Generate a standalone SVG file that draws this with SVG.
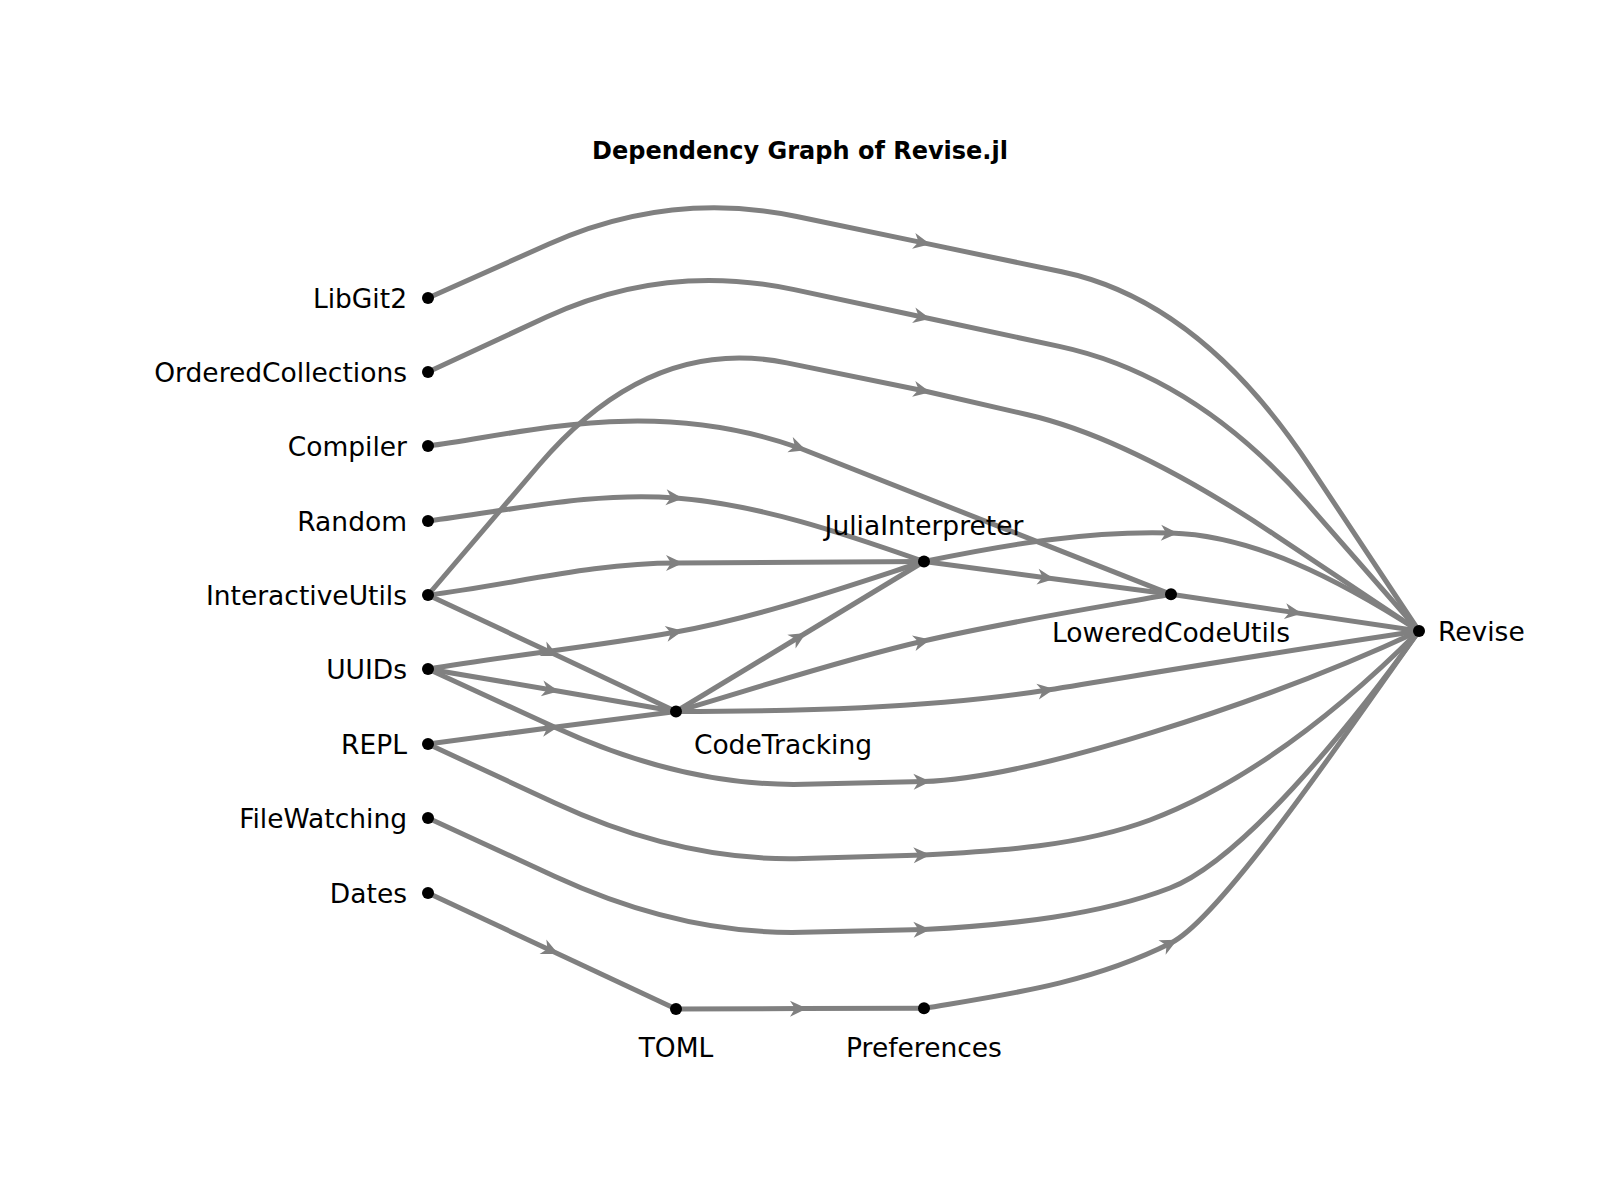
<svg xmlns="http://www.w3.org/2000/svg" width="1600" height="1200" viewBox="0 0 1600 1200">
<style>
.e{fill:none;stroke:#808080;stroke-width:5}
.h{fill:none;stroke:#808080;stroke-width:5;marker-end:url(#arr)}
.n{fill:#000}
.t{font-family:"DejaVu Sans","Liberation Sans",sans-serif;font-size:26.5px;fill:#000}
.l{text-anchor:end}
.c{text-anchor:middle}
.title{font-family:"DejaVu Sans","Liberation Sans",sans-serif;font-size:24px;font-weight:bold;text-anchor:middle;fill:#000}
</style>
<defs>
<marker id="arr" markerUnits="userSpaceOnUse" viewBox="-15 -15 30 30" markerWidth="30" markerHeight="30" refX="0" refY="0" orient="auto">
<path d="M7,0 L-10,-8 L-5,0 L-10,8 Z" fill="#808080"/>
</marker>
</defs>
<rect x="0" y="0" width="1600" height="1200" fill="#fff"/>
<text class="title" x="800" y="159">Dependency Graph of Revise.jl</text>
<g id="edges">
<g id="e-LibGit2-Revise"><path class="h" d="M428,298 L549,244 Q670,190 796.75,216.45 L923.5,242.9"/><path class="e" d="M923.5,242.9 L1061.75,271.8 Q1200,300.7 1309.5,465.85 L1419,631"/></g>
<g id="e-OrderedCollections-Revise"><path class="h" d="M428,372 L546.5,317 Q665,262 794.25,289.65 L923.5,317.3"/><path class="e" d="M923.5,317.3 L1059.25,346.35 Q1195,375.4 1307,503.2 L1419,631"/></g>
<g id="e-InteractiveUtils-Revise"><path class="h" d="M428,595 L539,465 Q650,335 786.75,362.9 L923.5,390.8"/><path class="e" d="M923.5,390.8 L1026.75,414.45 Q1130,438.1 1274.5,534.55 L1419,631"/></g>
<g id="e-Compiler-LoweredCodeUtils"><path class="h" d="M428,446 C520,434.5 650,395 799.5,448"/><path class="e" d="M799.5,448 L1171,594.3"/></g>
<g id="e-Random-JuliaInterpreter"><path class="h" d="M428,521 C511,510.6 593,491.4 676,498"/><path class="e" d="M676,498 C759,504.6 841,532.4 924,561.5"/></g>
<g id="e-InteractiveUtils-JuliaInterpreter"><path class="h" d="M428,595 C511,584.6 593,563 676,563"/><path class="e" d="M676,563 L924,561.5"/></g>
<g id="e-InteractiveUtils-CodeTracking"><path class="h" d="M428,595 L552,653"/><path class="e" d="M552,653 L676,711.5"/></g>
<g id="e-UUIDs-JuliaInterpreter"><path class="h" d="M428,669 C511,655 593,647 676,632"/><path class="e" d="M676,632 C759,617 841,588.4 924,561.5"/></g>
<g id="e-UUIDs-CodeTracking"><path class="h" d="M428,669 L552,690"/><path class="e" d="M552,690 L676,711.5"/></g>
<g id="e-UUIDs-Revise"><path class="h" d="M428,669 L556.5,728 Q685,787 804,784.3 L923.5,781.6"/><path class="e" d="M923.5,781.6 C1030,778 1260,705 1419,631"/></g>
<g id="e-REPL-CodeTracking"><path class="h" d="M428,744 L552,727.5"/><path class="e" d="M552,727.5 L676,711.5"/></g>
<g id="e-REPL-Revise"><path class="h" d="M428,744 L555,803 Q682,862 802.75,858.5 L923.5,855"/><path class="e" d="M923.5,855 C1000,851 1080,846 1150,820 C1250,782 1340,710 1419,631"/></g>
<g id="e-FileWatching-Revise"><path class="h" d="M428,818 L555,876.5 Q682,935 802.75,932.3 L923.5,929.6"/><path class="e" d="M923.5,929.6 C1010,925 1100,915 1170,888 C1240,861 1345,734 1419,631"/></g>
<g id="e-Dates-TOML"><path class="h" d="M428,893 L552,951"/><path class="e" d="M552,951 L676,1009"/></g>
<g id="e-TOML-Preferences"><path class="h" d="M676,1009 L800,1008.6"/><path class="e" d="M800,1008.6 L924,1008.3"/></g>
<g id="e-Preferences-Revise"><path class="h" d="M924,1008.3 C1006,994.5 1089,984 1171,943"/><path class="e" d="M1171,943 C1223,917 1360,713 1419,631"/></g>
<g id="e-CodeTracking-JuliaInterpreter"><path class="h" d="M676,711.5 L800,636.5"/><path class="e" d="M800,636.5 L924,561.5"/></g>
<g id="e-CodeTracking-LoweredCodeUtils"><path class="h" d="M676,711.5 C758,687.5 841.5,659.9 923.5,641"/><path class="e" d="M923.5,641 C1006,622 1089,608.8 1171,594.3"/></g>
<g id="e-CodeTracking-Revise"><path class="h" d="M676,711.5 C792,711.5 930,708.7 1047.5,690"/><path class="e" d="M1047.5,690 C1171,670 1296,649 1419,631"/></g>
<g id="e-JuliaInterpreter-LoweredCodeUtils"><path class="h" d="M924,561.5 L1047.5,578"/><path class="e" d="M1047.5,578 L1171,594.3"/></g>
<g id="e-JuliaInterpreter-Revise"><path class="h" d="M924,561.5 C1006,544.6 1089,530.5 1171,533"/><path class="e" d="M1171,533 C1253,535.5 1337,578.5 1419,631"/></g>
<g id="e-LoweredCodeUtils-Revise"><path class="h" d="M1171,594.3 L1295,612.6"/><path class="e" d="M1295,612.6 L1419,631"/></g>
</g>
<g id="n-LibGit2"><circle class="n" cx="428" cy="298" r="6"/><text class="t l" x="407" y="308">LibGit2</text></g>
<g id="n-OrderedCollections"><circle class="n" cx="428" cy="372" r="6"/><text class="t l" x="407" y="382">OrderedCollections</text></g>
<g id="n-Compiler"><circle class="n" cx="428" cy="446" r="6"/><text class="t l" x="407" y="456">Compiler</text></g>
<g id="n-Random"><circle class="n" cx="428" cy="521" r="6"/><text class="t l" x="407" y="531">Random</text></g>
<g id="n-InteractiveUtils"><circle class="n" cx="428" cy="595" r="6"/><text class="t l" x="407" y="605">InteractiveUtils</text></g>
<g id="n-UUIDs"><circle class="n" cx="428" cy="669" r="6"/><text class="t l" x="407" y="679">UUIDs</text></g>
<g id="n-REPL"><circle class="n" cx="428" cy="744" r="6"/><text class="t l" x="407" y="754">REPL</text></g>
<g id="n-FileWatching"><circle class="n" cx="428" cy="818" r="6"/><text class="t l" x="407" y="828">FileWatching</text></g>
<g id="n-Dates"><circle class="n" cx="428" cy="893" r="6"/><text class="t l" x="407" y="903">Dates</text></g>
<g id="n-CodeTracking"><circle class="n" cx="676" cy="711.5" r="6"/><text class="t c" x="783" y="754">CodeTracking</text></g>
<g id="n-TOML"><circle class="n" cx="676" cy="1009" r="6"/><text class="t c" x="676" y="1057">TOML</text></g>
<g id="n-JuliaInterpreter"><circle class="n" cx="924" cy="561.5" r="6"/><text class="t c" x="924" y="535">JuliaInterpreter</text></g>
<g id="n-Preferences"><circle class="n" cx="924" cy="1008.3" r="6"/><text class="t c" x="924" y="1057">Preferences</text></g>
<g id="n-LoweredCodeUtils"><circle class="n" cx="1171" cy="594.3" r="6"/><text class="t c" x="1171" y="642">LoweredCodeUtils</text></g>
<g id="n-Revise"><circle class="n" cx="1419" cy="631" r="6"/><text class="t" x="1438" y="641">Revise</text></g>
</svg>
